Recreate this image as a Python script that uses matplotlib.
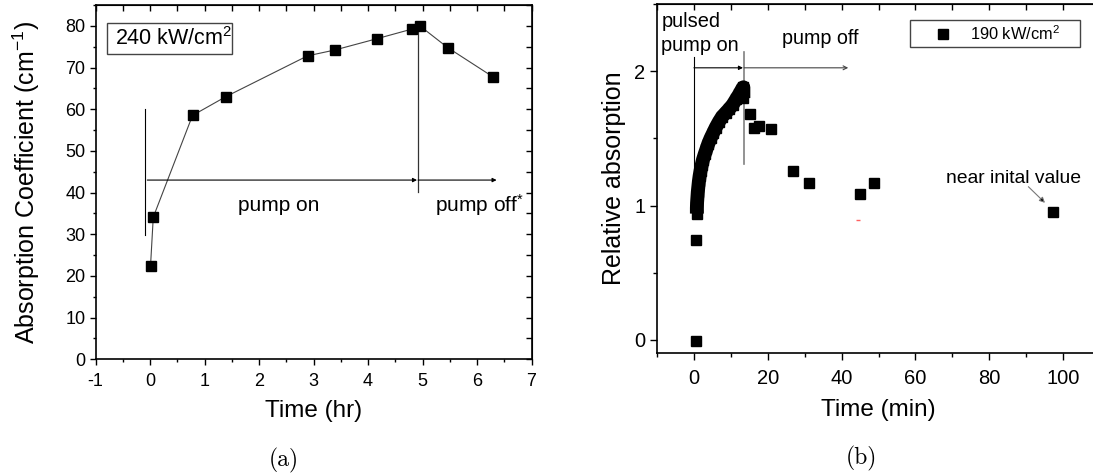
import matplotlib
matplotlib.use("Agg")
import matplotlib.pyplot as plt
from matplotlib.ticker import MultipleLocator
from matplotlib.patches import Rectangle
from matplotlib.lines import Line2D

plt.rcParams['font.family'] = ['Liberation Sans', 'DejaVu Sans']
plt.rcParams['mathtext.fontset'] = 'custom'
plt.rcParams['mathtext.rm'] = 'Liberation Sans'
plt.rcParams['mathtext.it'] = 'Liberation Sans:italic'
plt.rcParams['axes.unicode_minus'] = False

# (a) 240 kW/cm2, absorption coefficient vs time
time_hr = [0.01, 0.06, 0.78, 1.39, 2.89, 3.39, 4.16, 4.80, 4.95, 5.46, 6.30]
alpha_cm = [22.5, 34.1, 58.5, 63.0, 72.8, 74.2, 76.9, 79.2, 80.0, 74.8, 67.7]

# (b) 190 kW/cm2, relative absorption vs time
# continuous record while the pulsed pump is on
band_t = [0.8, 0.8, 0.85, 0.95, 1.05, 1.2, 1.35, 1.55, 1.8, 2.1, 2.45,
          2.9, 3.4, 3.9, 4.5, 5.2, 5.9, 6.7, 7.6, 8.6, 9.6, 10.5, 11.4,
          12.3, 13.1, 13.4, 13.4, 13.4]
band_v = [0.94, 0.98, 1.02, 1.06, 1.10, 1.14, 1.18, 1.22, 1.26, 1.30, 1.34,
          1.38, 1.42, 1.46, 1.50, 1.54, 1.58, 1.62, 1.66, 1.69, 1.72, 1.75, 1.79,
          1.83, 1.87, 1.88, 1.84, 1.80]
# single readings before the pump and during the decay
time_min = [0.5, 0.5, 15.2, 16.3, 17.6, 20.8, 26.9, 31.2, 45.0, 48.8, 97.2]
rel_abs = [-0.01, 0.74, 1.678, 1.575, 1.592, 1.569, 1.260, 1.171, 1.085, 1.169, 0.955]
stray_t = [44.4]
stray_v = [0.894]

pump_start_hr, pump_stop_hr = -0.1, 4.92
pump_start_min, pump_stop_min = 0.0, 13.6

W, H = 1093, 476
fig = plt.figure(figsize=(W / 100, H / 100), dpi=100)

def px_axes(x0, x1, ytop, ybot):
    return fig.add_axes([x0 / W, 1 - ybot / H, (x1 - x0) / W, (ybot - ytop) / H])

def style_axes(ax, xmaj, xmin, ymaj, ymin, size, ticklen):
    ax.xaxis.set_major_locator(MultipleLocator(xmaj))
    ax.xaxis.set_minor_locator(MultipleLocator(xmin))
    ax.yaxis.set_major_locator(MultipleLocator(ymaj))
    ax.yaxis.set_minor_locator(MultipleLocator(ymin))
    ax.tick_params(which='both', direction='out', top=False, right=False,
                   width=1.0, labelsize=size)
    ax.tick_params(which='major', length=ticklen)
    ax.tick_params(which='minor', length=ticklen * 0.5)
    ax.tick_params(axis='x', pad=6)
    ax.tick_params(axis='y', pad=3)
    for s in ax.spines.values():
        s.set_linewidth(1.2)
    top = ax.secondary_xaxis('top')
    top.xaxis.set_major_locator(MultipleLocator(xmaj))
    top.xaxis.set_minor_locator(MultipleLocator(xmin))
    top.tick_params(which='both', direction='in', length=4, width=1.0, labeltop=False)
    right = ax.secondary_yaxis('right')
    right.yaxis.set_major_locator(MultipleLocator(ymaj))
    right.yaxis.set_minor_locator(MultipleLocator(ymin))
    right.tick_params(which='both', direction='in', length=4, width=1.0, labelright=False)

# ---- panel (a)
ax1 = px_axes(95.5, 531.5, 5, 359.3)
ax1.set_xlim(-1, 7)
ax1.set_ylim(0, 85)
style_axes(ax1, 1, 0.5, 10, 5, 13, 4.2)
ax1.plot(time_hr, alpha_cm, '-', color='#444444', lw=0.8, zorder=2)
ax1.plot(time_hr, alpha_cm, 's', color='black', ms=7.2, lw=0, zorder=3)
ax1.set_xlabel('Time (hr)', fontsize=17.5, labelpad=7)
ax1.set_ylabel('Absorption Coefficient (cm$^{-1}$)', fontsize=18, labelpad=17)

ax1.plot([pump_start_hr, pump_start_hr], [29.8, 60.0], color='black', lw=0.8)
ax1.plot([pump_stop_hr, pump_stop_hr], [40.2, 80.0], color='#333333', lw=0.9, zorder=1)
arr = dict(arrowstyle='-|>', lw=0.8, color='black', mutation_scale=6, shrinkA=0, shrinkB=0)
ax1.annotate('', xy=(pump_stop_hr - 0.02, 43.0), xytext=(-0.05, 43.0), arrowprops=arr)
ax1.annotate('', xy=(6.36, 43.0), xytext=(pump_stop_hr, 43.0), arrowprops=arr)
ax1.text(2.37, 37.0, 'pump on', fontsize=15, ha='center', va='center')
ax1.text(6.05, 37.0, 'pump off$^{*}$', fontsize=15, ha='center', va='center')

ax1.add_patch(Rectangle((0.0257, 0.861), 0.2867, 0.089, transform=ax1.transAxes,
                        fill=False, ec='#444444', lw=1.0))
ax1.text(0.0447, 0.905, '240 kW/cm$^2$', transform=ax1.transAxes,
         fontsize=15.5, ha='left', va='center')

# ---- panel (b)
ax2 = px_axes(657, 1100, 4, 353.3)
ax2.set_xlim(-10, 110)
ax2.set_ylim(-0.1, 2.5)
style_axes(ax2, 20, 10, 1, 0.5, 14.5, 5.2)
ax2.plot(band_t, band_v, 's-', color='black', ms=7.2, lw=10,
         solid_capstyle='butt', solid_joinstyle='round', zorder=3)
ax2.plot(time_min, rel_abs, 's', color='black', ms=7.2, lw=0, zorder=3)
ax2.plot(stray_t, stray_v, '_', color='#ff6060', ms=3, mew=1)
ax2.set_xlabel('Time (min)', fontsize=17.5, labelpad=8)
ax2.set_ylabel('Relative absorption', fontsize=18, labelpad=6)

ax2.plot([pump_start_min, pump_start_min], [1.0, 2.106], color='black', lw=0.8, zorder=1)
ax2.plot([pump_stop_min, pump_stop_min], [1.31, 2.143], color='#808080', lw=1.2, zorder=1)
ax2.annotate('', xy=(pump_stop_min - 0.3, 2.025), xytext=(pump_start_min, 2.025), arrowprops=arr)
ax2.annotate('', xy=(41.8, 2.025), xytext=(pump_stop_min, 2.025),
             arrowprops=dict(arrowstyle='->', lw=0.8, color='#444444', mutation_scale=7,
                             shrinkA=0, shrinkB=0))
ax2.text(-8.8, 2.37, 'pulsed', fontsize=14.4, ha='left', va='center')
ax2.text(-8.8, 2.19, 'pump on', fontsize=14.4, ha='left', va='center')
ax2.text(34.1, 2.243, 'pump off', fontsize=14.2, ha='center', va='center')
ax2.text(86.7, 1.20, 'near inital value', fontsize=13.9, ha='center', va='center')
ax2.annotate('', xy=(95.1, 1.02), xytext=(90.6, 1.14),
             arrowprops=dict(arrowstyle='-|>', lw=0.8, color='#777777', fc='black',
                             mutation_scale=8, shrinkA=0, shrinkB=0))

ax2.add_patch(Rectangle((0.571, 0.876), 0.384, 0.078, transform=ax2.transAxes,
                        fill=False, ec='#444444', lw=1.0, clip_on=False))
ax2.add_line(Line2D([0.6463], [0.915], transform=ax2.transAxes, marker='s',
                    color='black', ms=6.5, lw=0))
ax2.text(0.7065, 0.915, '190 kW/cm$^2$', transform=ax2.transAxes,
         fontsize=11.8, ha='left', va='center')

# sub-figure captions
cap = dict(fontsize=17, family='cmr10', ha='center', va='center')
fig.text(284 / W, 1 - 460 / H, '(a)', **cap)
fig.text(861 / W, 1 - 458 / H, '(b)', **cap)

fig.savefig('out.png', dpi=100)
